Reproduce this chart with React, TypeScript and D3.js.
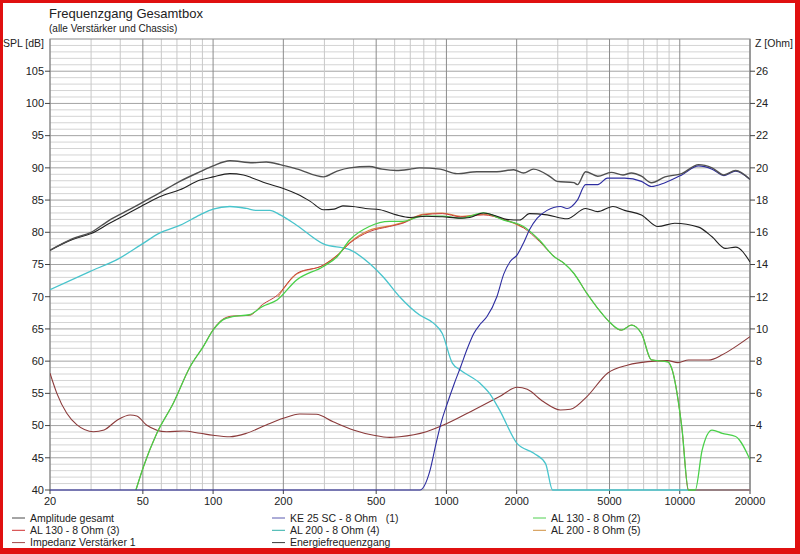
import React from 'react';
import * as d3 from 'd3';

// frequency response readings: [Hz, dB]
const amplitudeGesamt: [number, number][] = [
  [20, 77.2], [25, 79.0], [30, 80.0], [36, 81.9], [42, 83.2], [49, 84.5], [59, 86.1], [72, 87.9],
  [88, 89.4], [100, 90.3], [118, 91.1], [148, 90.8], [169, 90.9], [194, 90.5], [230, 89.8],
  [297, 88.6], [340, 89.5], [385, 90.0], [467, 90.2], [530, 89.8], [610, 89.6], [700, 89.8],
  [765, 90.0], [940, 89.8], [1110, 89.1], [1350, 89.4], [1645, 89.4], [1940, 89.7], [2140, 89.2],
  [2360, 89.8], [2790, 88.6], [2980, 87.9], [3520, 87.7], [3640, 87.4], [3950, 89.4], [4450, 88.7],
  [5080, 89.3], [5710, 88.9], [6200, 89.2], [6850, 88.7], [7560, 87.7], [8640, 88.6], [10200, 89.1],
  [12040, 90.5], [13750, 90.0], [15460, 88.9], [17360, 89.6], [20000, 88.2],
];

const energieFrequenzgang: [number, number][] = [
  [20, 77.2], [25, 78.9], [30, 79.8], [36, 81.4], [42, 82.7], [49, 84.0], [59, 85.5], [72, 86.6],
  [88, 88.1], [100, 88.6], [118, 89.1], [135, 88.9], [148, 88.4], [169, 87.6], [200, 86.8],
  [230, 85.9], [261, 84.8], [297, 83.5], [330, 83.6], [360, 84.1], [397, 84.0], [450, 83.7],
  [520, 83.5], [610, 82.7], [700, 82.3], [820, 82.5], [960, 82.4], [1150, 82.2], [1260, 82.3],
  [1440, 83.0], [1645, 82.5], [1810, 82.0], [2060, 81.9], [2270, 82.9], [2700, 82.7], [3290, 82.1],
  [3950, 83.7], [4450, 83.2], [5170, 84.0], [5800, 83.4], [6850, 82.7], [8070, 80.9], [9510, 81.4],
  [12040, 80.8], [13750, 79.3], [15700, 77.5], [17360, 77.7], [20000, 75.4],
];

const ke25: [number, number][] = [
  [20, 40], [770, 40], [850, 43], [900, 47], [950, 50.5], [1010, 53.5], [1080, 56.5], [1150, 59.1],
  [1230, 62], [1310, 64.3], [1400, 65.8], [1490, 66.9], [1645, 70], [1760, 73.5], [1880, 75.5],
  [2010, 76.5], [2150, 78.5], [2270, 80.4], [2450, 82.2], [2700, 83.4], [3080, 84], [3290, 83.7],
  [3640, 85], [3950, 87.4], [4450, 87.4], [4900, 88.4], [5800, 88.4], [6850, 87.9], [7560, 87.1],
  [8640, 87.7], [10200, 88.9], [12040, 90.3], [13750, 89.8], [15460, 88.8], [17360, 89.5], [20000, 88.2],
];

const al130_2: [number, number][] = [
  [46.7, 40], [50.3, 43.6], [57.4, 48.8], [67.6, 53.5], [79.6, 59.1], [90.9, 62.3], [100, 64.8],
  [110, 66.4], [121, 66.9], [143, 67.2], [163, 68.5], [188, 69.5], [228, 72.6], [297, 74.7],
  [340, 76.2], [385, 78.8], [467, 80.9], [570, 81.7], [650, 81.7], [790, 82.5], [960, 82.5],
  [1150, 82.2], [1440, 83.0], [1760, 81.9], [2140, 80.9], [2500, 78.8], [2900, 76.2], [3190, 75.2],
  [3520, 73.6], [4000, 70.5], [4450, 68.2], [4900, 66.4], [5620, 64.8], [6200, 65.6], [6850, 64.3],
  [7560, 60.2], [8880, 59.9], [9190, 59.1], [10200, 49.8], [10900, 40], [11650, 40], [12470, 46.2],
  [13750, 49.3], [15200, 48.8], [17360, 48.3], [20000, 44.7],
];

const al130_3: [number, number][] = [
  [46.7, 40], [50.3, 43.6], [57.4, 48.8], [67.6, 53.5], [79.6, 59.1], [90.9, 62.3], [100, 64.9],
  [110, 66.5], [121, 67.0], [143, 67.1], [163, 68.8], [188, 70.2], [228, 73.6], [297, 74.9],
  [340, 76.4], [385, 78.3], [467, 80.1], [570, 80.9], [650, 81.4], [790, 82.7], [960, 82.9],
  [1150, 82.4], [1440, 82.7], [1760, 82.0], [2140, 80.7], [2500, 78.6], [2900, 76.2], [3190, 75.2],
  [3520, 73.6], [4000, 70.5], [4450, 68.2], [4900, 66.4], [5620, 64.8], [6200, 65.6], [6850, 64.3],
  [7560, 60.2], [8880, 59.9], [9190, 59.1], [10200, 49.8], [10900, 40], [20000, 40],
];

const al200_4: [number, number][] = [
  [20, 71.1], [29.6, 73.9], [39.8, 76.0], [48.8, 78.0], [59.2, 79.9], [72.4, 81.1], [87.9, 82.7],
  [100, 83.6], [118, 84.0], [139, 83.7], [153, 83.4], [175, 83.4], [194, 82.7], [228, 81.1],
  [297, 78.2], [385, 77.3], [467, 75.2], [535, 73.1], [630, 70.0], [765, 67.2], [880, 65.9],
  [960, 64.3], [1060, 59.7], [1150, 58.6], [1390, 56.6], [1530, 55.0], [1690, 52.4], [2010, 47.2],
  [2370, 45.7], [2660, 44.1], [2850, 40], [20000, 40],
];

const al200_5: [number, number][] = [
  [190, 70.0], [228, 73.5], [297, 74.9], [340, 76.4], [385, 78.4], [467, 80.3], [570, 81.0],
  [650, 81.5], [790, 82.8], [960, 83.0], [1150, 82.5], [1440, 82.8], [1760, 82.0], [2140, 80.7],
];

// impedance readings: [Hz, Ohm]
const impedanz: [number, number][] = [
  [20, 7.25], [21.4, 6.0], [23.6, 4.76], [26.1, 4.04], [30.7, 3.62], [34.1, 3.73], [38.9, 4.35],
  [44.1, 4.66], [47.1, 4.6], [51.8, 4.04], [63.2, 3.62], [74.5, 3.66], [88, 3.52], [100, 3.4],
  [118, 3.31], [139, 3.52], [169, 4.04], [200, 4.45], [235, 4.72], [277, 4.7], [327, 4.24],
  [399, 3.73], [488, 3.4], [571, 3.27], [630, 3.31], [820, 3.62], [1010, 4.14], [1310, 4.97],
  [1690, 5.8], [2010, 6.38], [2220, 6.25], [2600, 5.49], [3080, 4.97], [3400, 5.01], [4000, 5.8],
  [4900, 7.25], [6000, 7.76], [7300, 7.97], [8880, 8.03], [9830, 7.91], [10900, 8.07], [13300, 8.07],
  [15200, 8.39], [17360, 8.9], [20000, 9.52],
];

const freqTicks = [20, 50, 100, 200, 500, 1000, 2000, 5000, 10000, 20000];
const splTicks = [40, 45, 50, 55, 60, 65, 70, 75, 80, 85, 90, 95, 100, 105];
const zTicks = [2, 4, 6, 8, 10, 12, 14, 16, 18, 20, 22, 24, 26];

const legendCols = [
  [
    { label: 'Amplitude gesamt', color: '#4a4a4a' },
    { label: 'AL 130 - 8 Ohm (3)', color: '#d03030' },
    { label: 'Impedanz Verstärker 1', color: '#a04848' },
  ],
  [
    { label: 'KE 25 SC - 8 Ohm   (1)', color: '#5a5ab0' },
    { label: 'AL 200 - 8 Ohm (4)', color: '#30b0a8' },
    { label: 'Energiefrequenzgang', color: '#3a3a3a' },
  ],
  [
    { label: 'AL 130 - 8 Ohm (2)', color: '#50d050' },
    { label: 'AL 200 - 8 Ohm (5)', color: '#d09040' },
  ],
];

const FONT = '"Liberation Sans", Arial, sans-serif';

export default function App() {
  const left = 50, right = 750, top = 39, bottom = 490;
  const x = d3.scaleLog().domain([20, 20000]).range([left, right]);
  const y = d3.scaleLinear().domain([40, 110]).range([bottom, top]);
  const yz = d3.scaleLinear().domain([0, 28]).range([bottom, top]);

  const spl = d3.line<[number, number]>().x(d => x(d[0])).y(d => y(d[1])).curve(d3.curveMonotoneX);
  const ohm = d3.line<[number, number]>().x(d => x(d[0])).y(d => yz(d[1])).curve(d3.curveMonotoneX);

  // grid frequencies 20..20000 (1-2-3..9 per decade)
  const gridFreqs: number[] = [];
  for (let dec = 10; dec <= 10000; dec *= 10) {
    for (let m = 1; m <= 9; m++) {
      const f = m * dec;
      if (f >= 20 && f <= 20000) gridFreqs.push(f);
    }
  }
  gridFreqs.push(20000);
  const dbLines = d3.range(41, 110);

  return (
    <div style={{ position: 'absolute', left: 0, top: 0 }}>
      <svg width={800} height={554} style={{ display: 'block', fontFamily: FONT }}>
        <rect x={0} y={0} width={800} height={554} fill="#e01010" />
        <rect x={3} y={3} width={792} height={545} fill="#ffffff" />

        <text x={49} y={18} fontSize={13} fill="#222">Frequenzgang Gesamtbox</text>
        <text x={49} y={32} fontSize={10} fill="#222">(alle Verstärker und Chassis)</text>
        <text x={44} y={47} fontSize={10.5} textAnchor="end" fill="#222">SPL [dB]</text>
        <text x={755} y={47} fontSize={10.5} fill="#222">Z [Ohm]</text>

        {/* horizontal grid */}
        {dbLines.map(v => (
          <line key={'h' + v} x1={left} x2={right} y1={y(v)} y2={y(v)}
            stroke={v % 5 === 0 ? '#a4a4a4' : '#d4d4d4'} strokeWidth={1} />
        ))}
        {/* vertical grid */}
        {gridFreqs.map(f => (
          <line key={'v' + f} x1={x(f)} x2={x(f)} y1={top} y2={bottom}
            stroke={freqTicks.includes(f) ? '#8c8c8c' : '#c8c8c8'} strokeWidth={1} />
        ))}
        <rect x={left} y={top} width={right - left} height={bottom - top} fill="none" stroke="#8c8c8c" />

        {/* left axis */}
        {splTicks.map(v => (
          <g key={'l' + v}>
            <line x1={left - 5} x2={left} y1={y(v)} y2={y(v)} stroke="#444" />
            <text x={left - 6} y={y(v)} dy="0.35em" fontSize={11} textAnchor="end" fill="#222">{v}</text>
          </g>
        ))}
        {/* right axis */}
        {zTicks.map(v => (
          <g key={'r' + v}>
            <line x1={right} x2={right + 5} y1={yz(v)} y2={yz(v)} stroke="#444" />
            <text x={right + 6} y={yz(v)} dy="0.35em" fontSize={11} fill="#222">{v}</text>
          </g>
        ))}
        {/* bottom axis */}
        {freqTicks.map(f => (
          <g key={'b' + f}>
            <line x1={x(f)} x2={x(f)} y1={bottom} y2={bottom + 4} stroke="#444" />
            <text x={x(f)} y={bottom + 15} fontSize={11} textAnchor="middle" fill="#222">{f}</text>
          </g>
        ))}

        <defs>
          <clipPath id="plot">
            <rect x={left} y={top - 1} width={right - left} height={bottom - top + 3} />
          </clipPath>
        </defs>
        <g clipPath="url(#plot)" fill="none" strokeLinejoin="round">
          <path d={ohm(impedanz) || ''} stroke="#8b3a3a" strokeWidth={1.1} />
          <path d={spl(al200_4) || ''} stroke="#48c4cc" strokeWidth={1.3} />
          <path d={spl(al200_5) || ''} stroke="#d88a40" strokeWidth={1.1} />
          <path d={spl(al130_3) || ''} stroke="#c83c3c" strokeWidth={1} />
          <path d={spl(al130_2) || ''} stroke="#48d048" strokeWidth={1.3} />
          <path d={spl(energieFrequenzgang) || ''} stroke="#202020" strokeWidth={1.1} />
          <path d={spl(ke25) || ''} stroke="#2c2ca0" strokeWidth={1.1} />
          <path d={spl(amplitudeGesamt) || ''} stroke="#505050" strokeWidth={1.4} />
        </g>

        {/* legend */}
        {legendCols.map((col, ci) => {
          const lx = [12, 272, 533][ci];
          return col.map((item, ri) => {
            const ly = 518 + ri * 12.3;
            return (
              <g key={item.label}>
                <line x1={lx} x2={lx + 13} y1={ly} y2={ly} stroke={item.color} strokeWidth={1} />
                <text x={lx + 18} y={ly} dy="0.35em" fontSize={10.5} fill="#222"
                  style={{ whiteSpace: 'pre' }}>{item.label}</text>
              </g>
            );
          });
        })}
      </svg>
    </div>
  );
}
